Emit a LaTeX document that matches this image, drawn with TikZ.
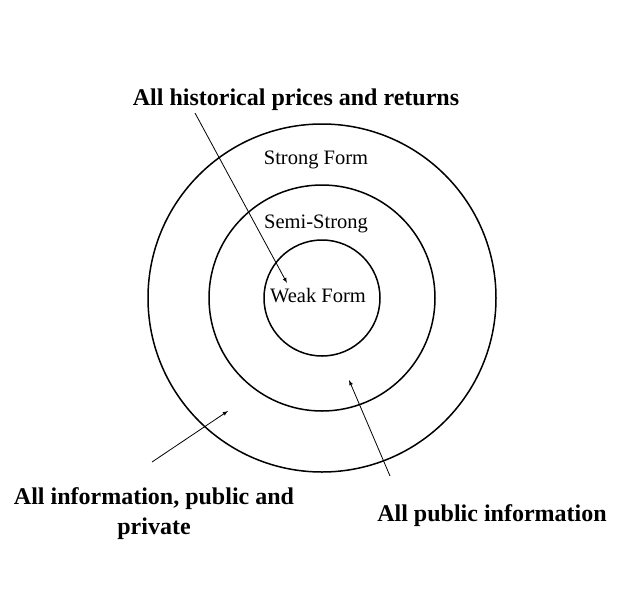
\documentclass[tikz,border=0pt]{standalone}
\usepackage{fontspec}
\setmainfont{Liberation Serif}
\begin{document}
\begin{tikzpicture}[x=1pt,y=-1pt,
  big/.style={font=\fontsize{24}{30}\selectfont\bfseries,align=center},
  small/.style={font=\fontsize{20.5}{24}\selectfont},
  arr/.style={-latex,line width=0.8pt}]
\useasboundingbox (0,0) rectangle (640,600);
\node[circle,draw,line width=1.5pt,minimum size=348pt,inner sep=0] (outer) at (322,298) {};
\node[circle,draw,line width=1.5pt,minimum size=226pt,inner sep=0] (mid) at (322,298) {};
\node[circle,draw,line width=1.5pt,minimum size=116pt,inner sep=0] (inner) at (322,298) {};
\node[big] (hist) at (296,100) {All historical prices and returns};
\node[small] (sf) at (316,160) {Strong Form};
\node[small] (ss) at (316,224) {Semi-Strong};
\node[small] (wf) at (318,296) {Weak Form};
\node[big] (allinfo) at (154,514) {All information, public and\\private};
\node[big] (pub) at (492,516) {All public information};
\coordinate (a1s) at (195,113); \coordinate (a1e) at (287,283);
\coordinate (a2s) at (152,462); \coordinate (a2e) at (228,411);
\coordinate (a3s) at (390,476); \coordinate (a3e) at (349,380);
\draw[arr] (a1s) -- (a1e);
\draw[arr] (a2s) -- (a2e);
\draw[arr] (a3s) -- (a3e);
\end{tikzpicture}
\end{document}
